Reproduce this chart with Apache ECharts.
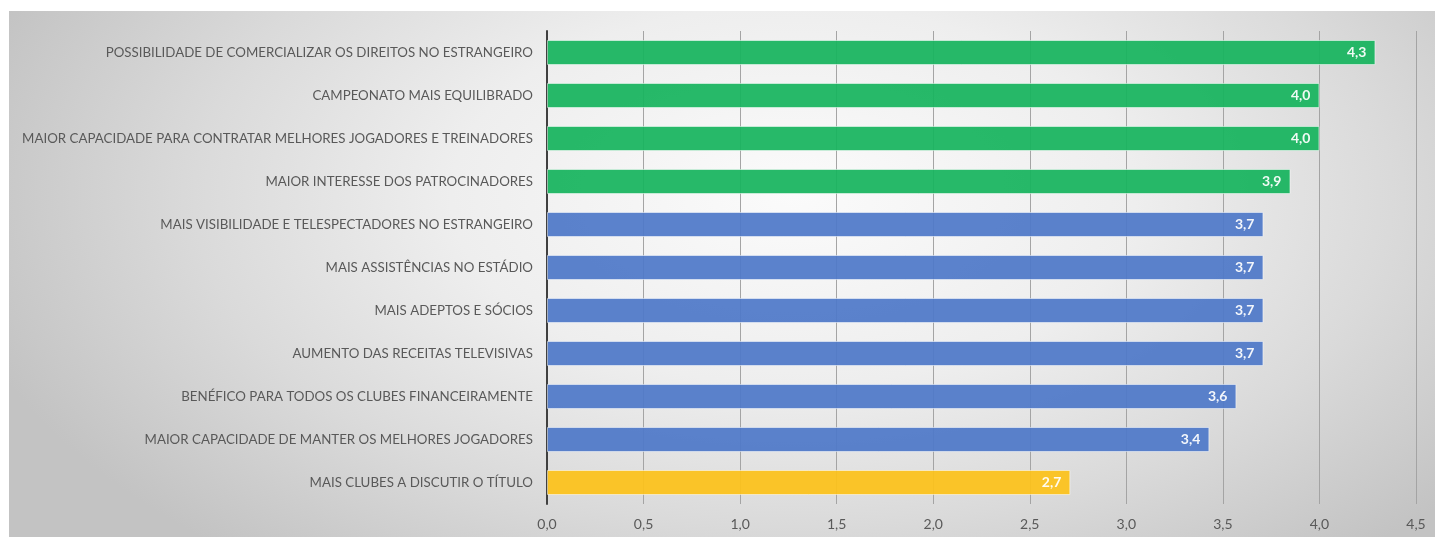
<!DOCTYPE html>
<html>
<head>
<meta charset="utf-8">
<script src="https://cdn.jsdelivr.net/npm/echarts@6/dist/echarts.min.js"></script>
<style>
html,body{margin:0;padding:0;background:#fff;}
#chart{width:1435px;height:537px;}
</style>
</head>
<body>
<div id="chart"></div>
<script>
const categories = [
  'POSSIBILIDADE DE COMERCIALIZAR OS DIREITOS NO ESTRANGEIRO',
  'CAMPEONATO MAIS EQUILIBRADO',
  'MAIOR CAPACIDADE PARA CONTRATAR MELHORES JOGADORES E TREINADORES',
  'MAIOR INTERESSE DOS PATROCINADORES',
  'MAIS VISIBILIDADE E TELESPECTADORES NO ESTRANGEIRO',
  'MAIS ASSISTÊNCIAS NO ESTÁDIO',
  'MAIS ADEPTOS E SÓCIOS',
  'AUMENTO DAS RECEITAS TELEVISIVAS',
  'BENÉFICO PARA TODOS OS CLUBES FINANCEIRAMENTE',
  'MAIOR CAPACIDADE DE MANTER OS MELHORES JOGADORES',
  'MAIS CLUBES A DISCUTIR O TÍTULO'
];
const values = [4.29, 4.00, 4.00, 3.85, 3.71, 3.71, 3.71, 3.71, 3.57, 3.43, 2.71];
const groups = ['high','high','high','high','mid','mid','mid','mid','mid','mid','low'];
const xTicks = [0, 0.5, 1, 1.5, 2, 2.5, 3, 3.5, 4, 4.5];

const groupColors = { high: '#17b45e', mid: '#4f79c8', low: '#fcc21a' };
const fmt = v => v.toFixed(1).replace('.', ',');

const chart = echarts.init(document.getElementById('chart'), null, { renderer: 'canvas' });
const W = 1426, H = 526;
const Rx = 0.6 * W, Ry = 0.9 * H;
const s = Ry / Rx;
const HL = H / s;
chart.setOption({
  animation: false,
  graphic: [{
    type: 'rect',
    z: -10,
    silent: true,
    x: 9, y: 11,
    scaleY: s,
    shape: { x: 0, y: 0, width: W, height: HL },
    style: {
      fill: new echarts.graphic.RadialGradient(0.55 * W, 0.35 * HL, Rx, [
        { offset: 0, color: '#fbfbfb' },
        { offset: 0.4, color: '#eeeeee' },
        { offset: 0.7, color: '#dadada' },
        { offset: 1, color: '#c3c3c3' }
      ], true)
    }
  }],
  grid: { left: 547, right: 19, top: 31, bottom: 33, containLabel: false },
  xAxis: {
    type: 'value',
    min: xTicks[0],
    max: xTicks[xTicks.length - 1],
    interval: 0.5,
    axisLine: { show: false },
    axisTick: { show: false },
    splitLine: { show: true, lineStyle: { color: '#a4a4a4', width: 1 } },
    axisLabel: {
      color: '#595959',
      fontFamily: 'Lato',
      fontSize: 14,
      margin: 13,
      formatter: v => fmt(v)
    }
  },
  yAxis: {
    type: 'category',
    inverse: true,
    data: categories,
    axisLine: { show: true, lineStyle: { color: '#404040', width: 2 } },
    axisTick: { show: false },
    axisLabel: {
      color: '#595959',
      fontFamily: 'Lato',
      fontSize: 13.3,
      margin: 14
    }
  },
  series: [{
    type: 'bar',
    barWidth: 25,
    data: values.map((v, i) => ({
      value: v,
      itemStyle: { color: groupColors[groups[i]] }
    })),
    itemStyle: { opacity: 0.93, borderColor: 'rgba(255,255,255,0.55)', borderWidth: 1 },
    label: {
      show: true,
      position: 'insideRight',
      distance: 9,
      color: '#ffffff',
      fontFamily: 'Lato',
      fontWeight: 'bold',
      fontSize: 14,
      formatter: p => fmt(p.value)
    }
  }]
});
</script>
</body>
</html>
